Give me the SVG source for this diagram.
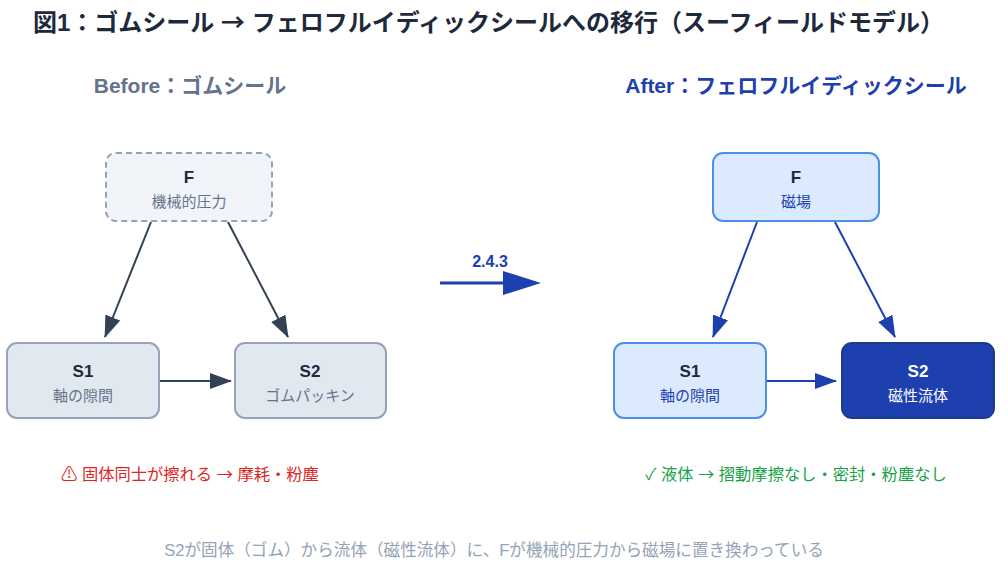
<svg xmlns="http://www.w3.org/2000/svg" width="1008" height="565" viewBox="0 0 1008 565">
<style>
text{font-family:"Liberation Sans","Noto Sans CJK JP",sans-serif}
.title{font-size:24px;font-weight:bold;fill:#1e293b}
.h{font-size:21px;font-weight:bold;text-anchor:middle}
.nt{font-size:17px;font-weight:bold;text-anchor:middle}
.ns{font-size:15px;text-anchor:middle}
.note{font-size:16.3px;text-anchor:middle}
.arr{font-family:"Noto Sans CJK JP",sans-serif}
.ca{stroke:#334155;stroke-width:2;fill:none}
.cb{stroke:#1e40af;stroke-width:2;fill:none}
</style>
<defs>
<marker id="ma" viewBox="0 0 22 16" refX="21" refY="8" markerWidth="22" markerHeight="16" markerUnits="userSpaceOnUse" orient="auto"><path d="M0,0 L22,8 L0,16 z" fill="#334155"/></marker>
<marker id="mb" viewBox="0 0 22 16" refX="21" refY="8" markerWidth="22" markerHeight="16" markerUnits="userSpaceOnUse" orient="auto"><path d="M0,0 L22,8 L0,16 z" fill="#1e40af"/></marker>
</defs>
<rect width="1008" height="565" fill="#ffffff"/>
<text class="title" x="33" y="31">図1：ゴムシール <tspan class="arr">→</tspan> フェロフルイディックシールへの移行（スーフィールドモデル）</text>
<text class="h" x="190" y="93" fill="#64748b">Before：ゴムシール</text>
<text class="h" x="796" y="93" fill="#1e40af">After：フェロフルイディックシール</text>

<g id="connectors">
<line class="ca" x1="151" y1="222" x2="105" y2="337" marker-end="url(#ma)"/>
<line class="ca" x1="228" y1="222" x2="288" y2="337" marker-end="url(#ma)"/>
<line class="ca" x1="160" y1="381" x2="231" y2="381" marker-end="url(#ma)"/>
<line class="cb" x1="757" y1="222" x2="713" y2="337" marker-end="url(#mb)"/>
<line class="cb" x1="835" y1="222" x2="895" y2="337" marker-end="url(#mb)"/>
<line class="cb" x1="767" y1="381" x2="836" y2="381" marker-end="url(#mb)"/>
<line x1="440" y1="283" x2="506" y2="283" stroke="#1e40af" stroke-width="3"/>
<path d="M503,271 L541,283 L503,295 z" fill="#1e40af"/>
<text x="490" y="267" font-size="16" font-weight="bold" fill="#1e40af" text-anchor="middle">2.4.3</text>
</g>

<g id="before-F">
<rect x="106" y="153" width="166" height="68" rx="10" fill="#f1f5f9" stroke="#94a3b8" stroke-width="2" stroke-dasharray="6,4"/>
<text class="nt" x="189" y="183" fill="#1e293b">F</text>
<text class="ns" x="189" y="207" fill="#64748b">機械的圧力</text>
</g>
<g id="before-S1">
<rect x="7" y="343" width="152" height="75" rx="10" fill="#e2e8f0" stroke="#94a3b8" stroke-width="2"/>
<text class="nt" x="83" y="377" fill="#1e293b">S1</text>
<text class="ns" x="83" y="401" fill="#64748b">軸の隙間</text>
</g>
<g id="before-S2">
<rect x="235" y="343" width="151" height="75" rx="10" fill="#e2e8f0" stroke="#94a3b8" stroke-width="2"/>
<text class="nt" x="310" y="377" fill="#1e293b">S2</text>
<text class="ns" x="310" y="401" fill="#64748b">ゴムパッキン</text>
</g>

<g id="after-F">
<rect x="713" y="153" width="166" height="68" rx="10" fill="#dbeafe" stroke="#4a8fe8" stroke-width="2"/>
<text class="nt" x="796" y="183" fill="#1e293b">F</text>
<text class="ns" x="796" y="207" fill="#1e40af">磁場</text>
</g>
<g id="after-S1">
<rect x="614" y="343" width="152" height="75" rx="10" fill="#dbeafe" stroke="#4a8fe8" stroke-width="2"/>
<text class="nt" x="690" y="377" fill="#1e293b">S1</text>
<text class="ns" x="690" y="401" fill="#1e40af">軸の隙間</text>
</g>
<g id="after-S2">
<rect x="842" y="343" width="152" height="75" rx="10" fill="#1e40af" stroke="#1e3a8a" stroke-width="2"/>
<text class="nt" x="918" y="377" fill="#ffffff">S2</text>
<text class="ns" x="918" y="401" fill="#ffffff">磁性流体</text>
</g>

<text class="note" x="190" y="480" fill="#dc2626">⚠ 固体同士が擦れる <tspan class="arr">→</tspan> 摩耗・粉塵</text>
<text class="note" x="796" y="480" fill="#16a34a">✓ 液体 <tspan class="arr">→</tspan> 摺動摩擦なし・密封・粉塵なし</text>
<text class="note" x="494" y="556" fill="#94a3b8" style="font-size:16.6px">S2が固体（ゴム）から流体（磁性流体）に、Fが機械的圧力から磁場に置き換わっている</text>
</svg>
